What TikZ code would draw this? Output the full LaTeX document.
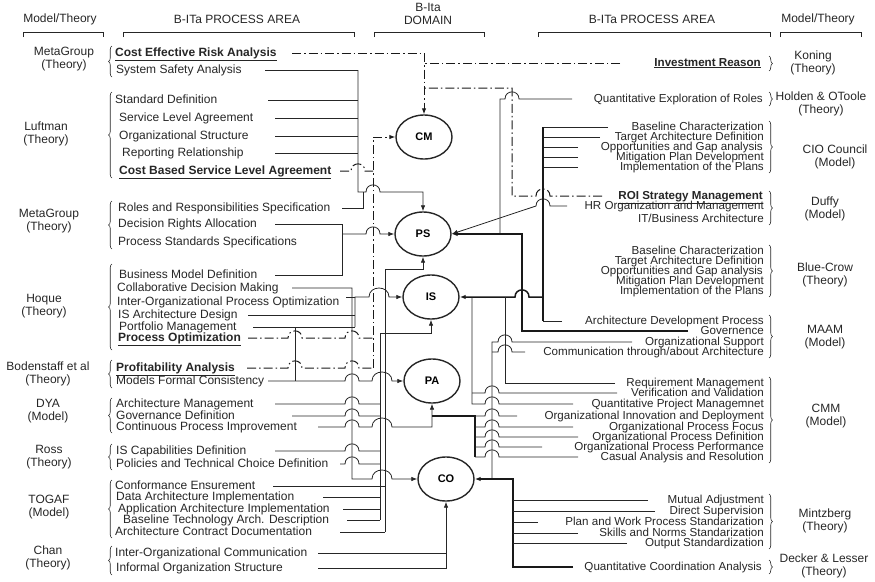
\documentclass[tikz,border=0pt]{standalone}
\usepackage{fontspec}
\setmainfont{Liberation Sans}
\usetikzlibrary{shapes.geometric,arrows.meta,decorations.pathreplacing}
\tikzset{
 lt/.style={anchor=west, inner sep=0pt, text height=8pt, text depth=2pt, font=\fontsize{12}{12}\selectfont, text=black!85},
 rt/.style={lt, anchor=east, font=\fontsize{11.6}{12}\selectfont},
 mt/.style={align=center, inner sep=0pt, font=\fontsize{12}{13}\selectfont, text=black!85},
 circ/.style={ellipse, draw=black!85, line width=1.4pt, minimum width=56, minimum height=44, inner sep=0pt, font=\fontsize{11}{11}\selectfont\bfseries},
 ln/.style={draw=black!85, line width=0.8pt},
 thk/.style={draw=black!90, line width=1.5pt},
 dd/.style={draw=black!90, line width=1pt, dash pattern=on 9pt off 3pt on 1.5pt off 3pt},
 arr/.style={-{Latex[length=6pt,width=4.5pt]}},
 brc/.style={draw=black!85, line width=0.6pt, decorate, decoration={brace, amplitude=3.5pt}},
 hr/.style 2 args={insert path={-- ({#1-7},#2) .. controls ({#1-7},{#2-9.5}) and ({#1+7},{#2-9.5}) .. ({#1+7},#2)}},
 hl/.style 2 args={insert path={-- ({#1+7},#2) .. controls ({#1+7},{#2-9.5}) and ({#1-7},{#2-9.5}) .. ({#1-7},#2)}},
 hrw/.style 2 args={insert path={-- ({#1-10},#2) .. controls ({#1-10},{#2-12}) and ({#1+10},{#2-12}) .. ({#1+10},#2)}},
}
\newcommand{\bu}[1]{\underline{\textbf{#1}}}
\begin{document}
\begin{tikzpicture}[x=1pt,y=-1pt]
\useasboundingbox (0,0) rectangle (875,581);
% headers
\node[mt] (h1) at (60,19) {Model/Theory};
\node[mt] (h2) at (237,19) {B-ITa PROCESS AREA};
\node[mt] (h3) at (428,14) {B-Ita\\DOMAIN};
\node[mt] (h4) at (652,19) {B-ITa PROCESS AREA};
\node[mt] (h5) at (818,19) {Model/Theory};
\draw[ln] (23,37) -- (23,32) -- (103,32) -- (103,37);
\draw[ln] (123,37) -- (123,32) -- (354,32) -- (354,37);
\draw[ln] (374,37) -- (374,32) -- (484,32) -- (484,37);
\draw[ln] (538,37) -- (538,32) -- (770,32) -- (770,37);
\draw[ln] (780,37) -- (780,32) -- (861,32) -- (861,37);
% domain circles
\node[circ] (CM) at (424,137) {CM};
\node[circ] (PS) at (423,234) {PS};
\node[circ] (IS) at (431,297) {IS};
\node[circ] (PA) at (432,381) {PA};
\node[circ] (CO) at (446,479) {CO};
% left model labels
\node[mt] (m1) at (64,59) {MetaGroup\\(Theory)};
\node[mt] (m2) at (46,134) {Luftman\\(Theory)};
\node[mt] (m3) at (49,221) {MetaGroup\\(Theory)};
\node[mt] (m4) at (44,306) {Hoque\\(Theory)};
\node[mt] (m5) at (48,374) {Bodenstaff et al\\(Theory)};
\node[mt] (m6) at (48,411) {DYA\\(Model)};
\node[mt] (m7) at (49,457) {Ross\\(Theory)};
\node[mt] (m8) at (49,507) {TOGAF\\(Model)};
\node[mt] (m9) at (48,558) {Chan\\(Theory)};
% right model labels
\node[mt] (r1) at (813,63) {Koning\\(Theory)};
\node[mt] (r2) at (821,104) {Holden \& OToole\\(Theory)};
\node[mt] (r3) at (835,157) {CIO Council\\(Model)};
\node[mt] (r4) at (825,209) {Duffy\\(Model)};
\node[mt] (r5) at (825,275) {Blue-Crow\\(Theory)};
\node[mt] (r6) at (825,337) {MAAM\\(Model)};
\node[mt] (r7) at (826,416) {CMM\\(Model)};
\node[mt] (r8) at (825,521) {Mintzberg\\(Theory)};
\node[mt] (r9) at (824,566) {Decker \& Lesser\\(Theory)};
% left braces
\draw[brc] (112,77) -- (112,46);
\draw[brc] (112,178) -- (112,92);
\draw[brc] (112,249) -- (112,201);
\draw[brc] (112,350) -- (112,264);
\draw[brc] (112,388) -- (112,360);
\draw[brc] (112,433) -- (112,398);
\draw[brc] (112,470) -- (112,444);
\draw[brc] (112,538) -- (112,480);
\draw[brc] (112,575) -- (112,546);
% right braces
\draw[brc] (769,56) -- (769,71);
\draw[brc] (769,92) -- (769,106);
\draw[brc] (769,121) -- (769,173);
\draw[brc] (769,191) -- (769,225);
\draw[brc] (769,245) -- (769,297);
\draw[brc] (769,315) -- (769,358);
\draw[brc] (769,377) -- (769,463);
\draw[brc] (769,494) -- (769,549);
\draw[brc] (769,560) -- (769,574);
% left texts
\node[lt] (tCERA) at (115,53) {\bu{Cost Effective Risk Analysis}};
\node[lt] (tSSA) at (116,70) {System Safety Analysis};
\node[lt] (tSD) at (115,100) {Standard Definition};
\node[lt] (tSLA) at (119,118) {Service Level Agreement};
\node[lt] (tOS) at (119,136) {Organizational Structure};
\node[lt] (tRR) at (122,153) {Reporting Relationship};
\node[lt] (tCBSLA) at (119,171) {\bu{Cost Based Service Level Agreement}};
\node[lt] (tRRS) at (118,208) {Roles and Responsibilities Specification};
\node[lt] (tDRA) at (118,224) {Decision Rights Allocation};
\node[lt] (tPSS) at (118,242) {Process Standards Specifications};
\node[lt] (tBMD) at (119,275) {Business Model Definition};
\node[lt] (tCDM) at (117,288) {Collaborative Decision Making};
\node[lt] (tIOPO) at (117,302) {Inter-Organizational Process Optimization};
\node[lt] (tISAD) at (118,315) {IS Architecture Design};
\node[lt] (tPM) at (119,327) {Portfolio Management};
\node[lt] (tPO) at (118,338) {\bu{Process Optimization}};
\node[lt] (tPRA) at (116,368) {\bu{Profitability Analysis}};
\node[lt] (tMFC) at (116,381) {Models Formal Consistency};
\node[lt] (tAM) at (116,404) {Architecture Management};
\node[lt] (tGD) at (116,416) {Governance Definition};
\node[lt] (tCPI) at (116,427) {Continuous Process Improvement};
\node[lt] (tISC) at (116,451) {IS Capabilities Definition};
\node[lt] (tPTC) at (116,464) {Policies and Technical Choice Definition};
\node[lt] (tCE) at (115,486) {Conformance Ensurement};
\node[lt] (tDAI) at (116,497) {Data Architecture Implementation};
\node[lt] (tAAI) at (118,509) {Application Architecture Implementation};
\node[lt] (tBTA) at (123,520) {Baseline Technology Arch. Description};
\node[lt] (tACD) at (115,532) {Architecture Contract Documentation};
\node[lt] (tIOC) at (115,553) {Inter-Organizational Communication};
\node[lt] (tIOS) at (116,568) {Informal Organization Structure};
% right texts
\node[rt] (tIR) at (761,63) {\bu{Investment Reason}};
\node[rt] (tQER) at (763,99) {Quantitative Exploration of Roles};
\node[rt] (tCB1) at (764,127) {Baseline Characterization};
\node[rt] (tCB2) at (764,137) {Target Architecture Definition};
\node[rt] (tCB3) at (763,147) {Opportunities and Gap analysis};
\node[rt] (tCB4) at (764,157) {Mitigation Plan Development};
\node[rt] (tCB5) at (764,167) {Implementation of the Plans};
\node[rt] (tROI) at (763,196) {\bu{ROI Strategy Management}};
\node[rt] (tHR) at (764,206) {HR Organization and Management};
\node[rt] (tITB) at (764,219) {IT/Business Architecture};
\node[rt] (tBW1) at (764,251) {Baseline Characterization};
\node[rt] (tBW2) at (764,261) {Target Architecture Definition};
\node[rt] (tBW3) at (763,271) {Opportunities and Gap analysis};
\node[rt] (tBW4) at (764,281) {Mitigation Plan Development};
\node[rt] (tBW5) at (764,291) {Implementation of the Plans};
\node[rt] (tADP) at (764,321) {Architecture Development Process};
\node[rt] (tGOV) at (764,331) {Governence};
\node[rt] (tOSU) at (764,342) {Organizational Support};
\node[rt] (tCOM) at (764,352) {Communication through/about Architecture};
\node[rt] (tRM) at (764,383) {Requirement Management};
\node[rt] (tVV) at (764,393) {Verification and Validation};
\node[rt] (tQPM) at (764,404) {Quantitative Project Managemnet};
\node[rt] (tOID) at (764,416) {Organizational Innovation and Deployment};
\node[rt] (tOPF) at (764,427) {Organizational Process Focus};
\node[rt] (tOPD) at (764,437) {Organizational Process Definition};
\node[rt] (tOPP) at (764,447) {Organizational Process Performance};
\node[rt] (tCAR) at (764,457) {Casual Analysis and Resolution};
\node[rt] (tMA) at (764,500) {Mutual Adjustment};
\node[rt] (tDS) at (764,511) {Direct Supervision};
\node[rt] (tPWPS) at (764,522) {Plan and Work Process Standarization};
\node[rt] (tSNS) at (764,533) {Skills and Norms Standarization};
\node[rt] (tOS2) at (764,543) {Output Standardization};
\node[rt] (tQCA) at (762,567) {Quantitative Coordination Analysis};
% ---------- CM (dash-dot) ----------
\draw[dd,arr] (tCERA -| 292,0) -- (424,53) -- (CM.north);
\draw[dd] (tIR -| 620,0) -- (424,63);
\draw[dd] (tROI -| 602,0) [hl={543}{196}] -- (512,196) -- (512,88) -- (424,88);
\draw[dd,arr] (373,368) -- (373,137) -- (CM.west);
\draw[dd] (tCBSLA -| 340,0) [hr={358}{171}] -- (373,171);
\draw[dd] (tPO -| 248,0) [hr={295}{338}] [hr={352}{338}] -- (373,338);
\draw[dd] (tPRA -| 247,0) [hr={295}{368}] [hr={352}{368}] -- (373,368);
% ---------- PS ----------
\draw[ln] (tSSA -| 265,0) -- (tSSA -| 358,0);
\draw[ln] (tSD -| 268,0) -- (tSD -| 358,0);
\draw[ln] (tSLA -| 275,0) -- (tSLA -| 358,0);
\draw[ln] (tOS -| 275,0) -- (tOS -| 358,0);
\draw[ln] (tRR -| 275,0) -- (tRR -| 358,0);
\draw[ln,arr] (358,70) -- (358,192) [hr={373}{192}] -- (423,192) -- (PS.north);
\draw[ln] (tRRS -| 342,0) -- (363,208) -- (363,192);
\draw[ln] (tDRA -| 275,0) -- (tDRA -| 342,0);
\draw[ln] (tBMD -| 275,0) -- (342,275) -- (342,224);
\draw[ln,arr] (342,234) [hr={373}{234}] -- (PS.west);
\draw[ln] (tACD -| 340,0) -- (385,532);
\draw[ln] (tCE -| 273,0) -- (385,486);
\draw[ln,arr] (385,532) -- (385,269) -- (423,269) -- (PS.south);
\draw[ln] (tQER -| 572,0) [hl={512}{99}] -- (500,99) -- (500,234);
\draw[ln,arr] (tHR -| 567,0) [hl={543}{206}] -- (PS.east);
\draw[thk,arr] (tGOV -| 688,0) -- (522,331) -- (522,234) -- (PS.east);
% ---------- IS ----------
\draw[ln] (346,297) -- (355,297);
\draw[ln] (tISAD -| 248,0) -- (tISAD -| 355,0);
\draw[ln] (tPM -| 253,0) -- (tPM -| 355,0);
\draw[ln,arr] (355,327) -- (355,297) [hrw={379}{297}] -- (IS.west);
\draw[ln] (295,327) -- (295,381);
\draw[ln] (tAM -| 275,0) [hr={352}{404}] -- (380,404);
\draw[ln] (tGD -| 292,0) [hr={352}{416}] -- (380,416);
\draw[ln] (tISC -| 275,0) [hr={352}{451}] -- (380,451);
\draw[ln] (tPTC -| 340,0) [hr={352}{464}] -- (380,464);
\draw[ln] (tDAI -| 323,0) -- (380,497);
\draw[ln] (tAAI -| 343,0) -- (380,509);
\draw[ln] (tBTA -| 347,0) -- (380,520);
\draw[ln,arr] (380,520) -- (380,333) -- (431,333) -- (IS.south);
\draw[ln] (tCB1 -| 608,0) -- (tCB1 -| 543,0);
\draw[ln] (tCB2 -| 600,0) -- (tCB2 -| 543,0);
\draw[ln] (tCB3 -| 578,0) -- (tCB3 -| 543,0);
\draw[ln] (tCB4 -| 578,0) -- (tCB4 -| 543,0);
\draw[ln] (tCB5 -| 578,0) -- (tCB5 -| 543,0);
\draw[thk] (543,127) -- (543,321);
\draw[ln] (tADP -| 562,0) -- (tADP -| 543,0);
\draw[thk,arr] (543,297) [hl={522}{297}] -- (IS.east);
\draw[ln] (tRM -| 615,0) -- (505,383) -- (505,297);
\draw[ln] (tVV -| 617,0) [hl={492}{393}] -- (472,393);
\draw[ln] (tQPM -| 573,0) [hl={492}{404}] -- (472,404) -- (472,297);
% ---------- PA ----------
\draw[ln,arr] (tMFC -| 268,0) [hr={352}{381}] [hrw={382}{381}] -- (PA.west);
\draw[ln,arr] (tCPI -| 318,0) [hr={352}{427}] [hrw={382}{427}] -- (432,427) -- (PA.south);
\draw[thk] (475,457) -- (475,416) -- (432,416);
\draw[ln] (tOID -| 517,0) [hl={492}{416}] -- (475,416);
\draw[ln] (tOPF -| 573,0) [hl={492}{427}] -- (475,427);
\draw[ln] (tOPD -| 578,0) [hl={492}{437}] -- (475,437);
\draw[ln] (tOPP -| 542,0) [hl={492}{447}] -- (475,447);
\draw[ln] (tCAR -| 578,0) [hl={492}{457}] -- (475,457);
% ---------- CO ----------
\draw[ln,arr] (tCDM -| 292,0) -- (352,288) -- (352,479) [hrw={382}{479}] -- (CO.west);
\draw[ln] (tIOC -| 318,0) -- (446,553);
\draw[ln,arr] (tIOS -| 318,0) -- (446,568) -- (CO.south);
\draw[ln] (tOSU -| 632,0) [hl={505}{342}] -- (492,342) -- (492,479);
\draw[ln] (tCOM -| 525,0) [hl={505}{352}] -- (492,352);
\draw[thk,arr] (tQCA -| 573,0) -- (513,567) -- (513,479) -- (CO.east);
\draw[ln] (tMA -| 648,0) -- (tMA -| 513,0);
\draw[ln] (tDS -| 655,0) -- (tDS -| 513,0);
\draw[ln] (tPWPS -| 538,0) -- (tPWPS -| 513,0);
\draw[ln] (tSNS -| 578,0) -- (tSNS -| 513,0);
\draw[ln] (tOS2 -| 627,0) -- (tOS2 -| 513,0);
\end{tikzpicture}
\end{document}
